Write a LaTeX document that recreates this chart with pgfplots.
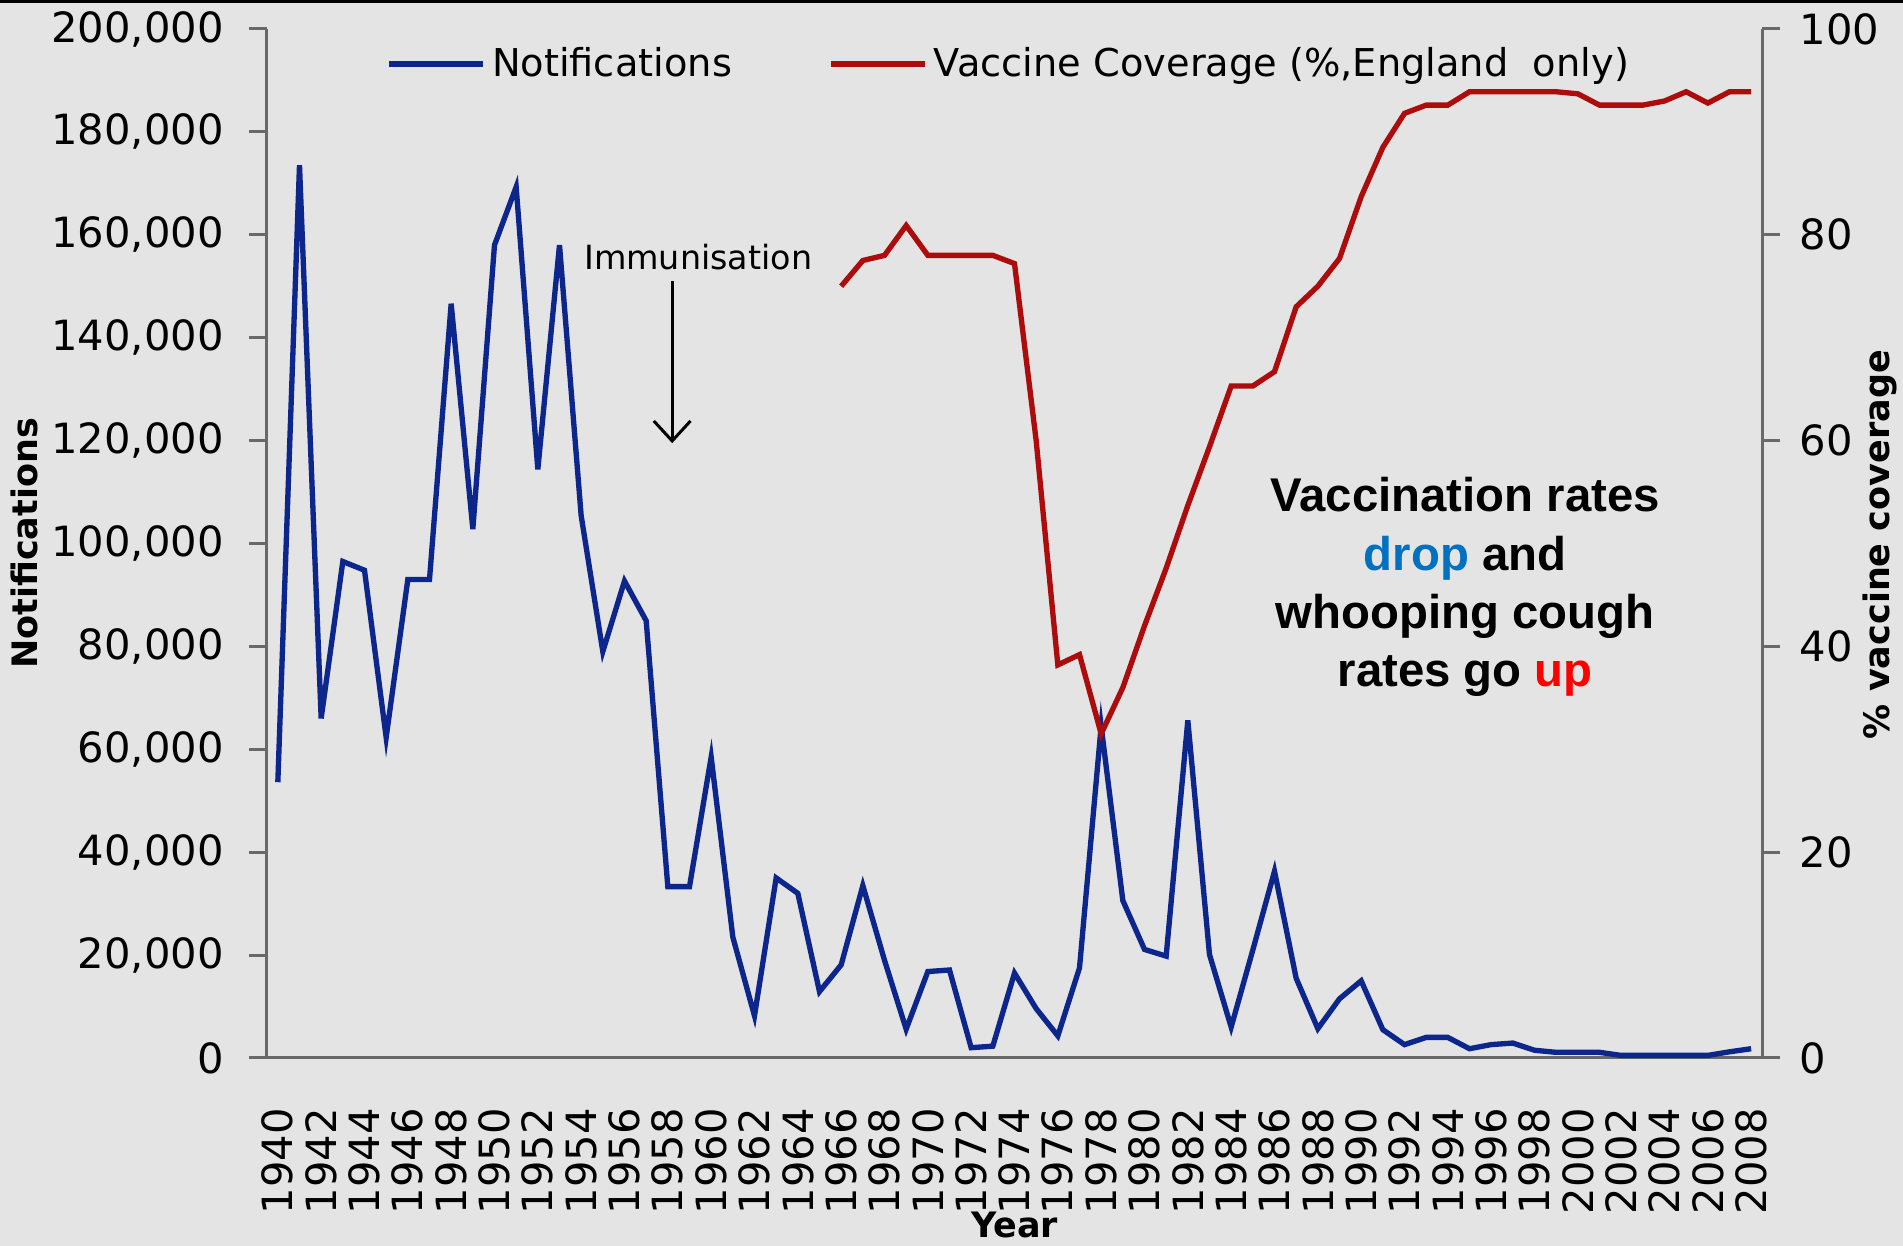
\documentclass[border=0pt]{standalone}
\usepackage{fontspec}
\setmainfont{DejaVu Sans}
\newfontfamily\annfont{Liberation Sans}
\usepackage{pgfplots}
\pgfplotsset{compat=1.18}
\usetikzlibrary{arrows.meta}
\definecolor{bgc}{RGB}{228,228,228}
\definecolor{notblue}{RGB}{12,38,140}
\definecolor{covred}{RGB}{172,12,12}
\definecolor{axgray}{RGB}{105,105,105}
\definecolor{dropblue}{RGB}{0,112,192}

\pgfplotstableread{
year notif
1940 53600
1941 173500
1942 66000
1943 96500
1944 94800
1945 62300
1946 93000
1947 93000
1948 146600
1949 102800
1950 158000
1951 169300
1952 114400
1953 158000
1954 105400
1955 79000
1956 92700
1957 85000
1958 33300
1959 33300
1960 58500
1961 23500
1962 8200
1963 35000
1964 32000
1965 12900
1966 18100
1967 33500
1968 19000
1969 5600
1970 16800
1971 17100
1972 2000
1973 2300
1974 16500
1975 9600
1976 4300
1977 17500
1978 64500
1979 30600
1980 21100
1981 19800
1982 65600
1983 20100
1984 6000
1985 21000
1986 36300
1987 15500
1988 5700
1989 11500
1990 15000
1991 5500
1992 2600
1993 4000
1994 4000
1995 1800
1996 2600
1997 2900
1998 1500
1999 1100
2000 1100
2001 1100
2002 500
2003 500
2004 500
2005 500
2006 500
2007 1200
2008 1800
}\notiftable

\pgfplotstableread{
year cov
1966 75.0
1967 77.5
1968 78.0
1969 80.9
1970 78.0
1971 78.0
1972 78.0
1973 78.0
1974 77.2
1975 60.0
1976 38.2
1977 39.2
1978 31.5
1979 36.0
1980 42.0
1981 47.6
1982 53.7
1983 59.4
1984 65.3
1985 65.3
1986 66.7
1987 73.0
1988 75.0
1989 77.7
1990 83.7
1991 88.5
1992 91.8
1993 92.6
1994 92.6
1995 93.9
1996 93.9
1997 93.9
1998 93.9
1999 93.9
2000 93.7
2001 92.6
2002 92.6
2003 92.6
2004 93.0
2005 93.9
2006 92.8
2007 93.9
2008 93.9
}\covtable

\begin{document}
\begin{tikzpicture}
\fill[bgc] (-80.1pt,-56.4pt) rectangle (490.8pt,317.4pt);
\fill[black] (-80.1pt,316.5pt) rectangle (490.8pt,317.4pt);

\begin{axis}[
  scale only axis,
  width=448.5pt, height=308.7pt,
  xmin=1939.5, xmax=2008.5,
  ymin=0, ymax=200000,
  axis x line*=bottom, axis y line*=left,
  axis line style={-, draw=axgray, line width=0.9pt},
  xtick={1940,1942,...,2008},
  xticklabels={1940,1942,1944,1946,1948,1950,1952,1954,1956,1958,1960,1962,1964,1966,1968,1970,1972,1974,1976,1978,1980,1982,1984,1986,1988,1990,1992,1994,1996,1998,2000,2002,2004,2006,2008},
  ytick={0,20000,40000,60000,80000,100000,120000,140000,160000,180000,200000},
  yticklabels={0,{20,000},{40,000},{60,000},{80,000},{100,000},{120,000},{140,000},{160,000},{180,000},{200,000}},
  scaled y ticks=false,
  tick align=outside,
  major tick length=5.5pt,
  xtick style={draw=none},
  ytick style={draw=axgray, line width=0.9pt},
  xticklabel style={font=\fontsize{12.5}{14}\selectfont, rotate=90, anchor=east},
  xticklabel shift=6pt,
  yticklabel style={font=\fontsize{12.5}{14}\selectfont, xshift=-4pt},
  every axis x label/.style={at={(0.5,-0.162)}, anchor=center},
  every axis y label/.style={at={(-0.1625,0.5)}, rotate=90, anchor=center},
  xlabel={\bfseries Year},
  ylabel={\bfseries Notifications},
  label style={font=\fontsize{10.5}{12}\selectfont},
  clip=false,
]
\addplot[notblue, line width=1.6pt] table[x=year, y=notif] {\notiftable};
\node[font=\fontsize{10}{12}\selectfont] at (axis cs:1959.4,155600) {Immunisation};
\draw[-{Straight Barb[length=6pt,width=11pt]}, line width=0.9pt] (axis cs:1958.2,151000) -- (axis cs:1958.2,119500);
\node[font=\annfont\bfseries\fontsize{14.2}{17.5}\selectfont, align=center] at (axis cs:1994.8,91500)
  {Vaccination rates\\ \textcolor{dropblue}{drop} and\\ whooping cough\\ rates go \textcolor{red}{up}};
\end{axis}

\begin{axis}[
  scale only axis,
  width=448.5pt, height=308.7pt,
  xmin=1939.5, xmax=2008.5,
  ymin=0, ymax=100,
  axis x line=none,
  axis y line*=right,
  axis line style={-, draw=axgray, line width=0.9pt},
  ytick={0,20,40,60,80,100},
  yticklabels={0,20,40,60,80,100},
  tick align=outside,
  major tick length=5.5pt,
  ytick style={draw=axgray, line width=0.9pt},
  yticklabel style={font=\fontsize{12.5}{14}\selectfont, xshift=2.3pt},
  legend columns=2,
  legend style={draw=none, fill=none, at={(0.0796,0.966)}, anchor=west, inner sep=0pt,
    font=\fontsize{11.5}{13}\selectfont,
    /tikz/every even column/.append style={column sep=27pt}},
  legend image code/.code={\draw[#1] (0pt,0pt) -- (28pt,0pt);},
]
\addlegendimage{notblue, line width=1.6pt}
\addlegendentry{Notifications}
\addplot[covred, line width=1.6pt] table[x=year, y=cov] {\covtable};
\addlegendentry{Vaccine Coverage (\%,England\ \ only)}
\end{axis}

\node[rotate=90, font=\bfseries\fontsize{10.5}{12}\selectfont] at (484pt,154pt) {\% vaccine coverage};

\pgfresetboundingbox
\useasboundingbox (-80.1pt,-56.4pt) rectangle (490.8pt,317.4pt);
\end{tikzpicture}
\end{document}
